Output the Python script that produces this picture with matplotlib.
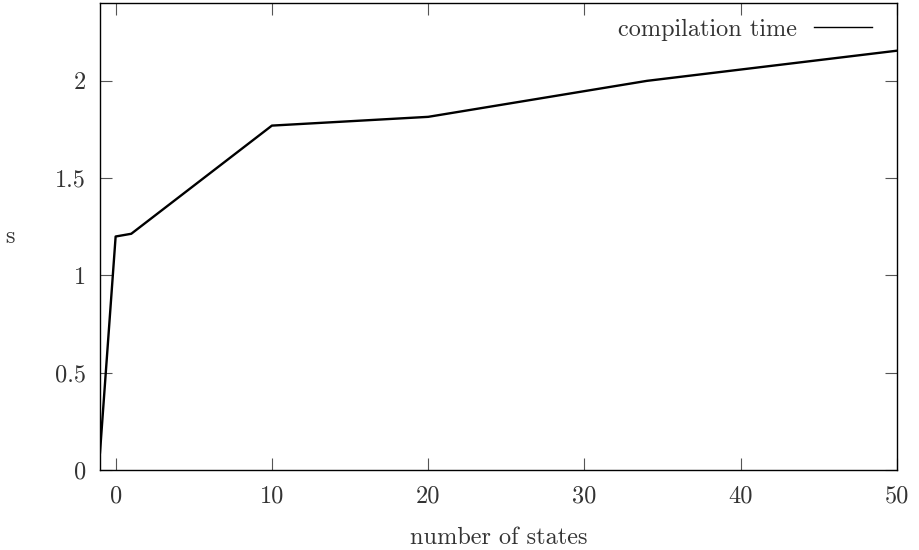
import matplotlib
matplotlib.use("Agg")
import matplotlib.pyplot as plt

plt.rcParams['font.family'] = ['cmr10', 'DejaVu Serif']
plt.rcParams['axes.formatter.use_mathtext'] = True

states = [-1, 0, 1, 10, 20, 34, 50]
comp_time = [0.09, 1.2, 1.214, 1.77, 1.815, 2.0, 2.155]
xticks = [0, 10, 20, 30, 40, 50]
yticks = [0, 0.5, 1, 1.5, 2]
ytick_labels = ['0', '0.5', '1', '1.5', '2']

FS = 17.5
TXT = '#333333'

fig = plt.figure(figsize=(9.2, 5.5), dpi=100)
ax = fig.add_axes([0.1087, 0.1455, 0.975 - 0.1087, 0.9945 - 0.1455])
ax.plot(states, comp_time, color='black', lw=1.7, label='compilation time')
ax.set_xlim(-1, 50)
ax.set_ylim(0, 2.4)
ax.set_xticks(xticks)
ax.set_xticklabels([str(t) for t in xticks])
ax.set_yticks(yticks)
ax.set_yticklabels(ytick_labels)
ax.tick_params(direction='in', length=8.6, width=0.8, top=True, right=True,
               labelsize=FS, labelcolor=TXT, color='#555555')
ax.tick_params(axis='x', pad=11)
ax.tick_params(axis='y', pad=10)
for s in ax.spines.values():
    s.set_linewidth(1.0)
ax.set_xlabel('number of states', fontsize=FS, color=TXT, labelpad=14)
fig.text(10 / 920, 1 - 237 / 550, 's', fontsize=FS, color=TXT,
         ha='center', va='center')
leg = ax.legend(loc='upper right', bbox_to_anchor=(0.9686, 0.9665),
                frameon=False, markerfirst=False, fontsize=FS,
                handlelength=2.4, borderaxespad=0.0, borderpad=0.0,
                handletextpad=0.7)
for t in leg.get_texts():
    t.set_color(TXT)
for h in leg.get_lines():
    h.set_linewidth(1.0)
fig.savefig('out.png', dpi=100)
